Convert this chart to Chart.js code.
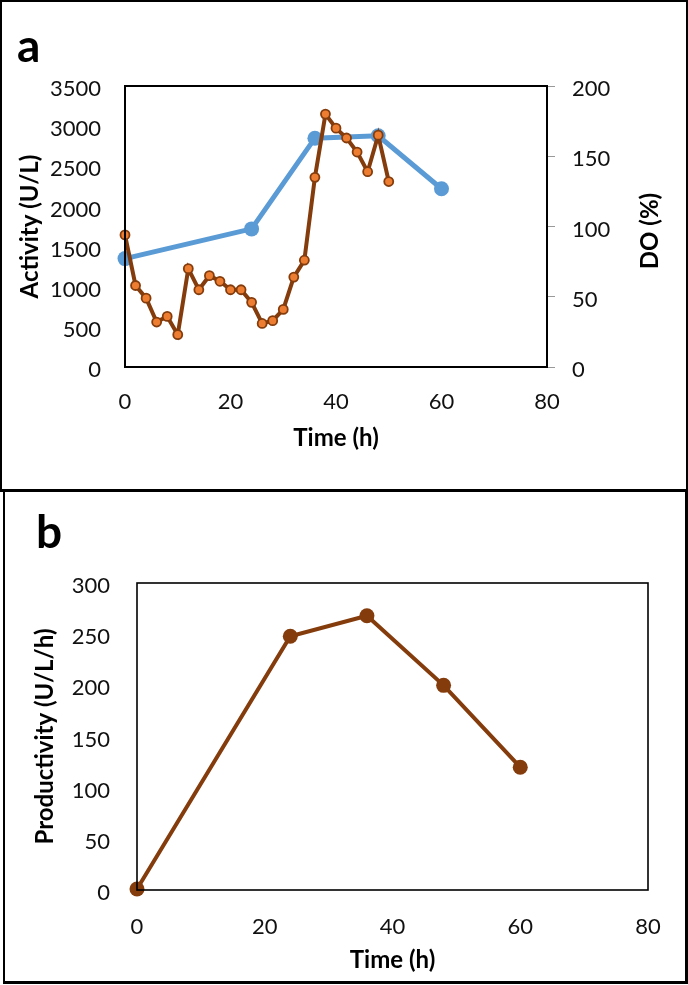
<!DOCTYPE html>
<html>
<head>
<meta charset="utf-8">
<script src="https://cdn.jsdelivr.net/npm/chart.js@4"></script>
<style>
  body { margin: 0; background: #fff; width: 688px; height: 985px; position: relative; font-family: Lato, sans-serif; }
  canvas { position: absolute; left: 0; }
  .frame { position: absolute; border: 2px solid #000; box-sizing: border-box; pointer-events: none; }
  .lbl { position: absolute; font-weight: bold; color: #000; }
  .rot { position: absolute; font-weight: bold; font-size: 24px; color: #000; transform: translate(-50%, -50%) rotate(-90deg); white-space: nowrap; }
</style>
</head>
<body>
<canvas id="chartA" width="688" height="491" style="top:0"></canvas>
<canvas id="chartB" width="688" height="494" style="top:491px"></canvas>
<div class="frame" style="left:0;top:0;width:688px;height:492px;border-bottom-width:3px"></div>
<div class="frame" style="left:3px;top:490px;width:685px;height:494px;border-width:2px 3px 3px 2px"></div>
<div class="lbl" style="left:17px;top:17px;font-size:46px">a</div>
<div class="lbl" style="left:36px;top:503px;font-size:46px">b</div>
<div class="rot" style="left:648px;top:231px">DO (%)</div>
<script>
// dados
const activityTime = [0, 24, 36, 48, 60];
const activity = [1350, 1720, 2850, 2880, 2220]; // U/L

const doTime = [0, 2, 4, 6, 8, 10, 12, 14, 16, 18, 20, 22, 24, 26, 28, 30, 32, 34, 36, 38, 40, 42, 44, 46, 48, 50];
const doValues = [94, 58, 49, 32, 36, 23, 70, 55, 65, 61, 55, 55, 46, 31, 33, 41, 64, 76, 135, 180, 170, 163, 153, 139, 165, 132]; // %

const prodTime = [0, 24, 36, 48, 60];
const productivity = [1, 248, 268, 200, 120]; // U/L/h

const xTicks = [0, 20, 40, 60, 80];

const pts = (xs, ys) => xs.map((x, i) => ({ x: x, y: ys[i] }));

// moldura do gráfico
const plotFrame = {
  id: 'plotFrame',
  afterDatasetsDraw(chart, args, opts) {
    const a = chart.chartArea;
    const ctx = chart.ctx;
    ctx.save();
    ctx.strokeStyle = '#000';
    ctx.lineWidth = opts.width || 2;
    ctx.strokeRect(a.left, a.top, a.right - a.left, a.bottom - a.top);
    ctx.restore();
  }
};

const tickFont = { family: 'Lato', size: 22 };
const titleFont = { family: 'Lato', size: 24, weight: 'bold' };
const plain = v => String(v); // sem separador de milhar
const fixW = w => s => { s.width = w; };
const fixH = h => s => { s.height = h; };

// a) atividade e DO
new Chart(document.getElementById('chartA').getContext('2d'), {
  type: 'line',
  data: {
    datasets: [{
      label: 'DO (%)',
      data: pts(doTime, doValues),
      yAxisID: 'y2',
      borderColor: '#843C0C',
      borderWidth: 4,
      pointRadius: 4.5,
      pointBackgroundColor: '#ED7D31',
      pointBorderColor: '#843C0C',
      pointBorderWidth: 1.8,
      clip: false,
      order: 0
    }, {
      label: 'Activity (U/L)',
      data: pts(activityTime, activity),
      yAxisID: 'y',
      borderColor: '#5B9BD5',
      borderWidth: 5,
      pointRadius: 7.5,
      pointBackgroundColor: '#5B9BD5',
      pointBorderColor: '#5B9BD5',
      pointBorderWidth: 0,
      clip: false,
      order: 1
    }]
  },
  options: {
    responsive: false,
    animation: false,
    layout: { padding: { top: 86, left: 0, right: 0, bottom: 0 } },
    plugins: { legend: { display: false }, tooltip: { enabled: false }, plotFrame: { width: 2 } },
    scales: {
      x: {
        type: 'linear', min: 0, max: 80,
        afterBuildTicks: s => { s.ticks = xTicks.map(v => ({ value: v })); },
        afterFit: fixH(124),
        grid: { display: false },
        border: { display: false },
        ticks: { font: tickFont, color: '#111', padding: 14, maxRotation: 0, callback: plain },
        title: { display: true, text: 'Time (h)', font: titleFont, color: '#000', padding: { bottom: 38 } }
      },
      y: {
        position: 'left', min: 0, max: 3500,
        afterFit: fixW(125),
        grid: { display: false },
        border: { display: false },
        ticks: { stepSize: 500, font: tickFont, color: '#111', padding: 16, labelOffset: 3, callback: plain },
        title: { display: true, text: 'Activity (U/L)', font: titleFont, color: '#000', padding: { top: 16 } }
      },
      y2: {
        position: 'right', min: 0, max: 200,
        afterFit: fixW(141),
        grid: { display: true, drawOnChartArea: false, drawTicks: true, tickLength: 8, color: '#999', lineWidth: 1 },
        border: { display: false },
        ticks: { stepSize: 50, font: tickFont, color: '#111', padding: 17, labelOffset: 3, callback: plain }
      }
    }
  },
  plugins: [plotFrame]
});

// b) produtividade
new Chart(document.getElementById('chartB').getContext('2d'), {
  type: 'line',
  data: {
    datasets: [{
      label: 'Productivity (U/L/h)',
      data: pts(prodTime, productivity),
      borderColor: '#843C0C',
      borderWidth: 4,
      pointRadius: 7.5,
      pointBackgroundColor: '#843C0C',
      pointBorderColor: '#843C0C',
      pointBorderWidth: 0,
      clip: false
    }]
  },
  options: {
    responsive: false,
    animation: false,
    layout: { padding: { top: 92, left: 0, right: 40, bottom: 0 } },
    plugins: { legend: { display: false }, tooltip: { enabled: false }, plotFrame: { width: 1.6 } },
    scales: {
      x: {
        type: 'linear', min: 0, max: 80,
        afterBuildTicks: s => { s.ticks = xTicks.map(v => ({ value: v })); },
        afterFit: fixH(95),
        grid: { display: false },
        border: { display: false },
        ticks: { font: tickFont, color: '#111', padding: 16, maxRotation: 0, callback: plain },
        title: { display: true, text: 'Time (h)', font: titleFont, color: '#000', padding: { bottom: 10 } }
      },
      y: {
        min: 0, max: 300,
        afterFit: fixW(137),
        grid: { display: false },
        border: { display: false },
        ticks: { stepSize: 50, font: tickFont, color: '#111', padding: 19, labelOffset: 3, callback: plain },
        title: { display: true, text: 'Productivity (U/L/h)', font: titleFont, color: '#000', padding: { top: 31 } }
      }
    }
  },
  plugins: [plotFrame]
});
</script>
</body>
</html>
